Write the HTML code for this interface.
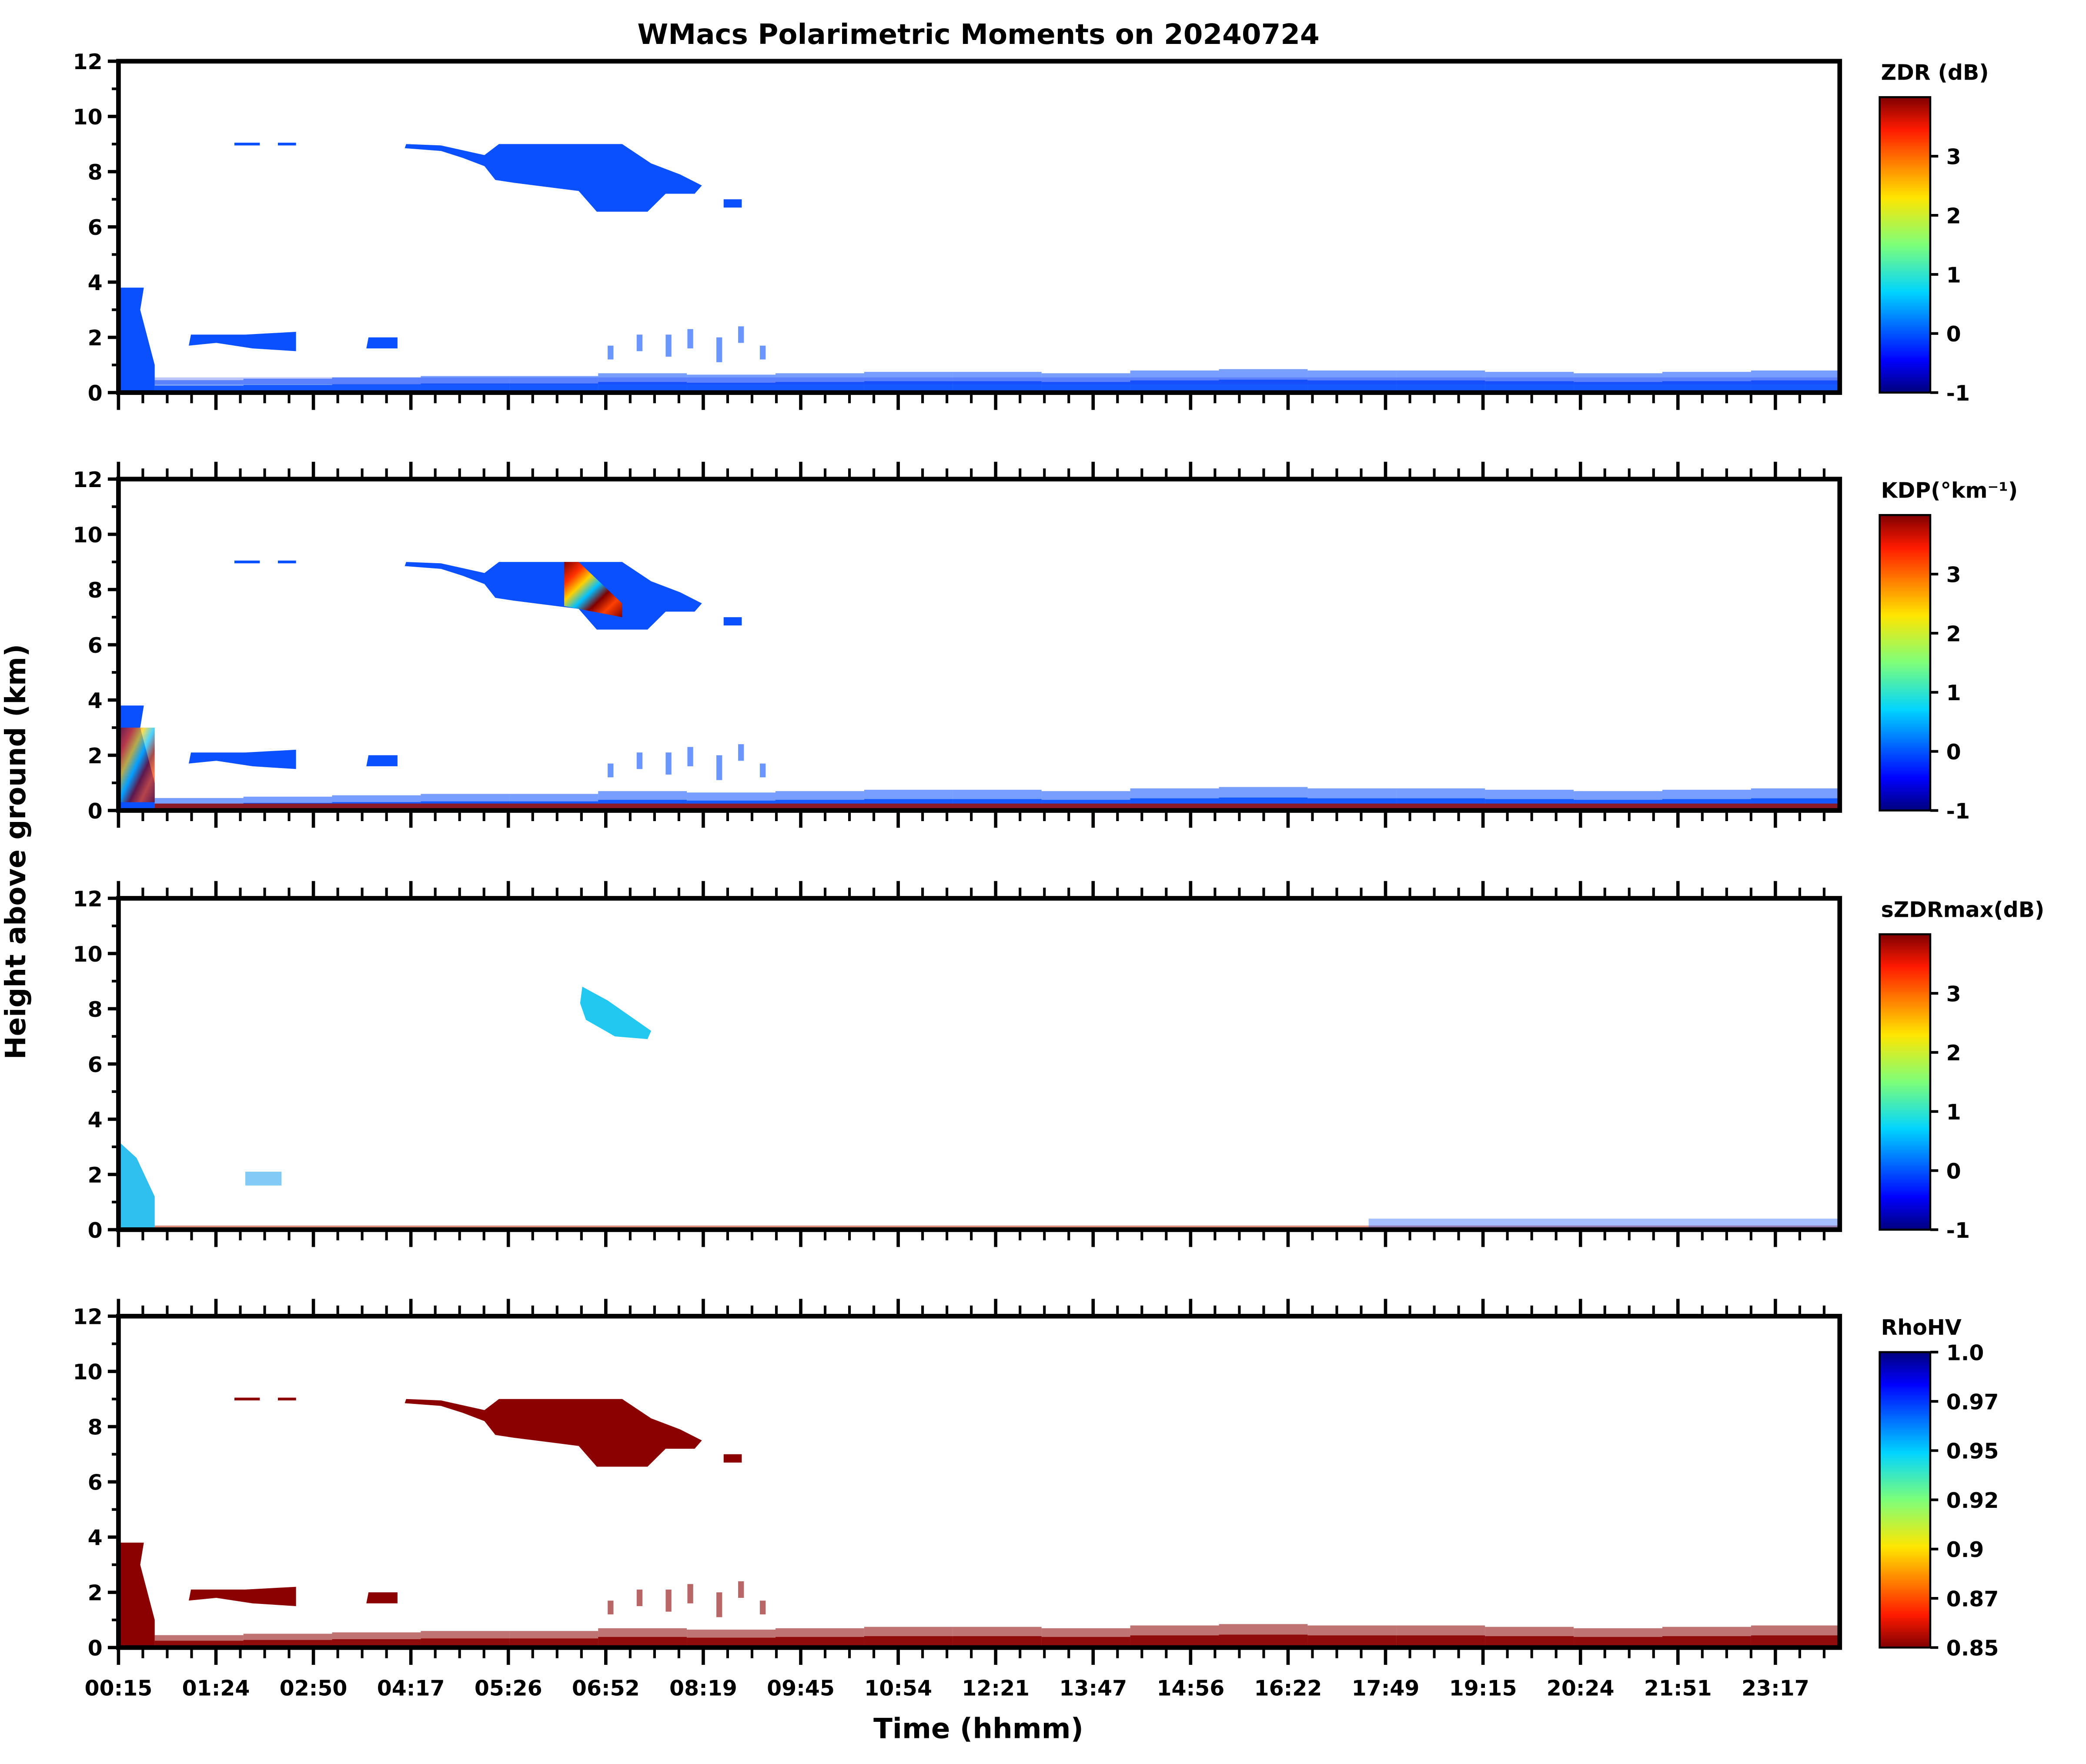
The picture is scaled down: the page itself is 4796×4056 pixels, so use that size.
<!DOCTYPE html>
<html><head><meta charset="utf-8"><style>
html,body{margin:0;padding:0;background:#fff}
svg{display:block}
text{font-family:"DejaVu Sans","Liberation Sans",sans-serif;font-weight:bold;fill:#000}
</style></head><body>
<svg id="chart" xmlns="http://www.w3.org/2000/svg" width="4796" height="4056" viewBox="0 0 1567 1325.5" preserveAspectRatio="none">
<defs>
<linearGradient id="jet" x1="0" y1="1" x2="0" y2="0">
<stop offset="0" stop-color="#00007f"/><stop offset="0.11" stop-color="#0000ff"/><stop offset="0.125" stop-color="#0010ff"/>
<stop offset="0.34" stop-color="#00d4ff"/><stop offset="0.5" stop-color="#7dff7a"/><stop offset="0.66" stop-color="#ffe600"/>
<stop offset="0.89" stop-color="#ff1a00"/><stop offset="1" stop-color="#800000"/></linearGradient>
<linearGradient id="jetr" x1="0" y1="0" x2="0" y2="1">
<stop offset="0" stop-color="#00007f"/><stop offset="0.11" stop-color="#0000ff"/><stop offset="0.125" stop-color="#0010ff"/>
<stop offset="0.34" stop-color="#00d4ff"/><stop offset="0.5" stop-color="#7dff7a"/><stop offset="0.66" stop-color="#ffe600"/>
<stop offset="0.89" stop-color="#ff1a00"/><stop offset="1" stop-color="#800000"/></linearGradient>
<linearGradient id="kdpmix" x1="0" y1="0" x2="1" y2="1">
<stop offset="0" stop-color="#800000"/><stop offset="0.2" stop-color="#ff3000"/><stop offset="0.35" stop-color="#ffd000"/>
<stop offset="0.5" stop-color="#00c0ff"/><stop offset="0.65" stop-color="#800000"/><stop offset="0.8" stop-color="#ff4000"/><stop offset="1" stop-color="#800000"/></linearGradient>
</defs>
<text x="735" y="33" font-size="21" text-anchor="middle">WMacs Polarimetric Moments on 20240724</text>
<text transform="translate(19,640) rotate(-90)" font-size="21" text-anchor="middle">Height above ground (km)</text>
<text x="735" y="1306" font-size="21" text-anchor="middle">Time (hhmm)</text>
<g id="plots"></g>
</svg>
<script>
// ---- data ----
const xTickLabels = ["00:15","01:24","02:50","04:17","05:26","06:52","08:19","09:45","10:54","12:21","13:47","14:56","16:22","17:49","19:15","20:24","21:51","23:17"];
const yTicks = [0,2,4,6,8,10,12];
const cbTicksJet = [-1,0,1,2,3];
const cbTicksRho = ["0.85","0.87","0.9","0.92","0.95","0.97","1.0"];
const panelLabels = ["ZDR (dB)","KDP(°km⁻¹)","sZDRmax(dB)","RhoHV"];
// echo regions: [hour, km] polygons
const upperCloud = [[4.22,9.0],[4.7,8.95],[5.3,8.6],[5.5,9.0],[7.2,9.0],[7.6,8.3],[8.0,7.9],[8.3,7.5],[8.2,7.2],[7.8,7.2],[7.55,6.55],[6.85,6.55],[6.6,7.3],[6.0,7.5],[5.7,7.6],[5.45,7.7],[5.3,8.2],[5.0,8.5],[4.7,8.75],[4.2,8.85]];
const cloudTail = [[8.6,7.0],[8.85,7.0],[8.85,6.7],[8.6,6.7]];
const cloudBits9 = [[1.85,2.2],[2.45,2.7]];
const leftColumn = [[0.25,0],[0.25,3.8],[0.6,3.8],[0.55,3.0],[0.75,1.0],[0.75,0]];
const midCloud = [[1.22,1.7],[1.25,2.1],[2.0,2.1],[2.7,2.2],[2.7,1.5],[2.1,1.6],[1.6,1.8]];
const midCloud2 = [[3.67,1.6],[3.7,2.0],[4.1,2.0],[4.1,1.6]];
const streaks = [[7.0,1.2,0.5],[7.4,1.5,0.6],[7.8,1.3,0.8],[8.1,1.6,0.7],[8.5,1.1,0.9],[8.8,1.8,0.6],[9.1,1.2,0.5]];
const blHeightTop = [0.45,0.5,0.55,0.6,0.6,0.7,0.65,0.7,0.75,0.75,0.7,0.8,0.85,0.8,0.8,0.75,0.7,0.75,0.8];
const sCloud = [[6.65,8.8],[7.0,8.3],[7.6,7.2],[7.55,6.9],[7.1,7.0],[6.7,7.6],[6.62,8.2]];
const sLeft = [[0.25,0],[0.25,3.2],[0.5,2.6],[0.75,1.2],[0.75,0]];
const kdpCore = [[6.4,9.0],[6.6,9.0],[7.2,7.5],[7.2,7.0],[6.4,7.4]];

// ---- layout ----
const X0=89, X1=1382, T0=0.25, T1=24.0;
const tops=[46,360,675,989], H=249;
const NS="http://www.w3.org/2000/svg";
const root=document.getElementById('plots');
function el(tag,attrs,parent){const e=document.createElementNS(NS,tag);for(const k in attrs)e.setAttribute(k,attrs[k]);(parent||root).appendChild(e);return e;}
function xs(h){return X0+(h-T0)/(T1-T0)*(X1-X0);}
function mkY(top){return km=>top+H-km/12*H;}
function poly(pts,ys,fill,g,name,op){const p=el('polygon',{points:pts.map(q=>xs(q[0])+','+ys(q[1])).join(' '),fill:fill,'fill-opacity':op||1},g);

return p;}
function rect(h0,h1,k0,k1,ys,fill,g,name,op){const r=el('rect',{x:xs(h0),y:ys(k1),width:xs(h1)-xs(h0),height:ys(k0)-ys(k1),fill:fill,'fill-opacity':op||1},g);

return r;}

const tickSp=(X1-X0)/17.66;
tops.forEach((top,pi)=>{
  const ys=mkY(top);
  const g=el('g',{});
  
  
  const main = pi===3?'#8b0000':'#0a50ff';
  if(pi!==2){
    poly(upperCloud,ys,main,g,'upper-cloud');
    poly(cloudTail,ys,main,g,'cloud-tail');
    cloudBits9.forEach(b=>rect(b[0],b[1],8.95,9.05,ys,main,g,'cloud-fragment'));
    poly(midCloud,ys,main,g,'mid-cloud');
    poly(midCloud2,ys,main,g,'mid-cloud-small');
    streaks.forEach(s=>rect(s[0],s[0]+0.08,s[1],s[1]+s[2],ys,main,g,'streak-echo',0.6));
    poly(leftColumn,ys,main,g,'left-column');
    const n=blHeightTop.length;
    blHeightTop.forEach((t,i)=>{
      const h0=0.75+(T1-0.75)*i/n, h1=0.75+(T1-0.75)*(i+1)/n;
      rect(h0,h1,0,t,ys,main,g,'boundary-layer',0.55);
      rect(h0,h1,0,t*0.55,ys,main,g,'boundary-layer-core',0.9);
    });
    if(pi===1){
      poly(kdpCore,ys,'url(#kdpmix)',g,'kdp-core');
      rect(0.75,T1,0,0.25,ys,'#a01000',g,'kdp-low-band',0.85);
      rect(0.25,0.75,0.3,3.0,ys,'url(#kdpmix)',g,'kdp-left-core',0.7);
    }
    if(pi===0) rect(0.75,T1,0.3,0.55,ys,'#1a3cff',g,'zdr-low',0.3);
  } else {
    poly(sCloud,ys,'#22c8f0',g,'szdr-cloud');
    poly(sLeft,ys,'#30c0f0',g,'szdr-left-column');
    rect(2.0,2.5,1.6,2.1,ys,'#30a8f0',g,'szdr-mid-bits',0.6);
    rect(0.75,T1,0,0.15,ys,'#c04020',g,'szdr-low-band',0.6);
    rect(17.5,T1,0.05,0.4,ys,'#2060ff',g,'szdr-low-band-late',0.4);
  }
  const fr=el('rect',{x:X0,y:top,width:X1-X0,height:H,fill:'none',stroke:'#000','stroke-width':3.5},g);
  
  
  for(let k=0;k<=12;k++){
    const y=ys(k), maj=k%2===0;
    el('line',{x1:X0,x2:X0-(maj?8:5),y1:y,y2:y,stroke:'#000','stroke-width':maj?2.5:2},g);
  }
  yTicks.forEach(k=>{const t=el('text',{x:X0-12,y:ys(k)+6,'font-size':16,'text-anchor':'end'},g);t.textContent=k;
    
    });
  for(let i=0;;i++){
    const x=X0+i*tickSp/4; if(x>X1+0.5)break;
    const maj=i%4===0, L=maj?13:8;
    el('line',{x1:x,x2:x,y1:top+H,y2:top+H+L,stroke:'#000','stroke-width':maj?2.5:2},g);
    if(pi>0) el('line',{x1:x,x2:x,y1:top,y2:top-L,stroke:'#000','stroke-width':maj?2.5:2},g);
  }
  const cbTop=top+27, cbH=top+H-cbTop;
  const cb=el('rect',{x:1412,y:cbTop,width:38,height:cbH,fill:pi===3?'url(#jetr)':'url(#jet)',stroke:'#000','stroke-width':1.5},g);
  
  
  const lab=el('text',{x:1413,y:top+14,'font-size':16},g);lab.textContent=panelLabels[pi];
  
  
  const ticks = pi===3?cbTicksRho:cbTicksJet;
  ticks.forEach((v,i)=>{
    const y = pi===3 ? cbTop+cbH - i/(ticks.length-1)*cbH : cbTop+cbH-(v+1)/5*cbH;
    el('line',{x1:1450,x2:1456,y1:y,y2:y,stroke:'#000','stroke-width':2},g);
    const t=el('text',{x:1462,y:y+6,'font-size':16},g);t.textContent=v;
    
    
  });
});
const lastTop=tops[3];
xTickLabels.forEach((s,i)=>{
  const t=el('text',{x:X0+i*tickSp,y:lastTop+H+36,'font-size':16,'text-anchor':'middle'});t.textContent=s;
  
  
});
</script>
</body></html>
